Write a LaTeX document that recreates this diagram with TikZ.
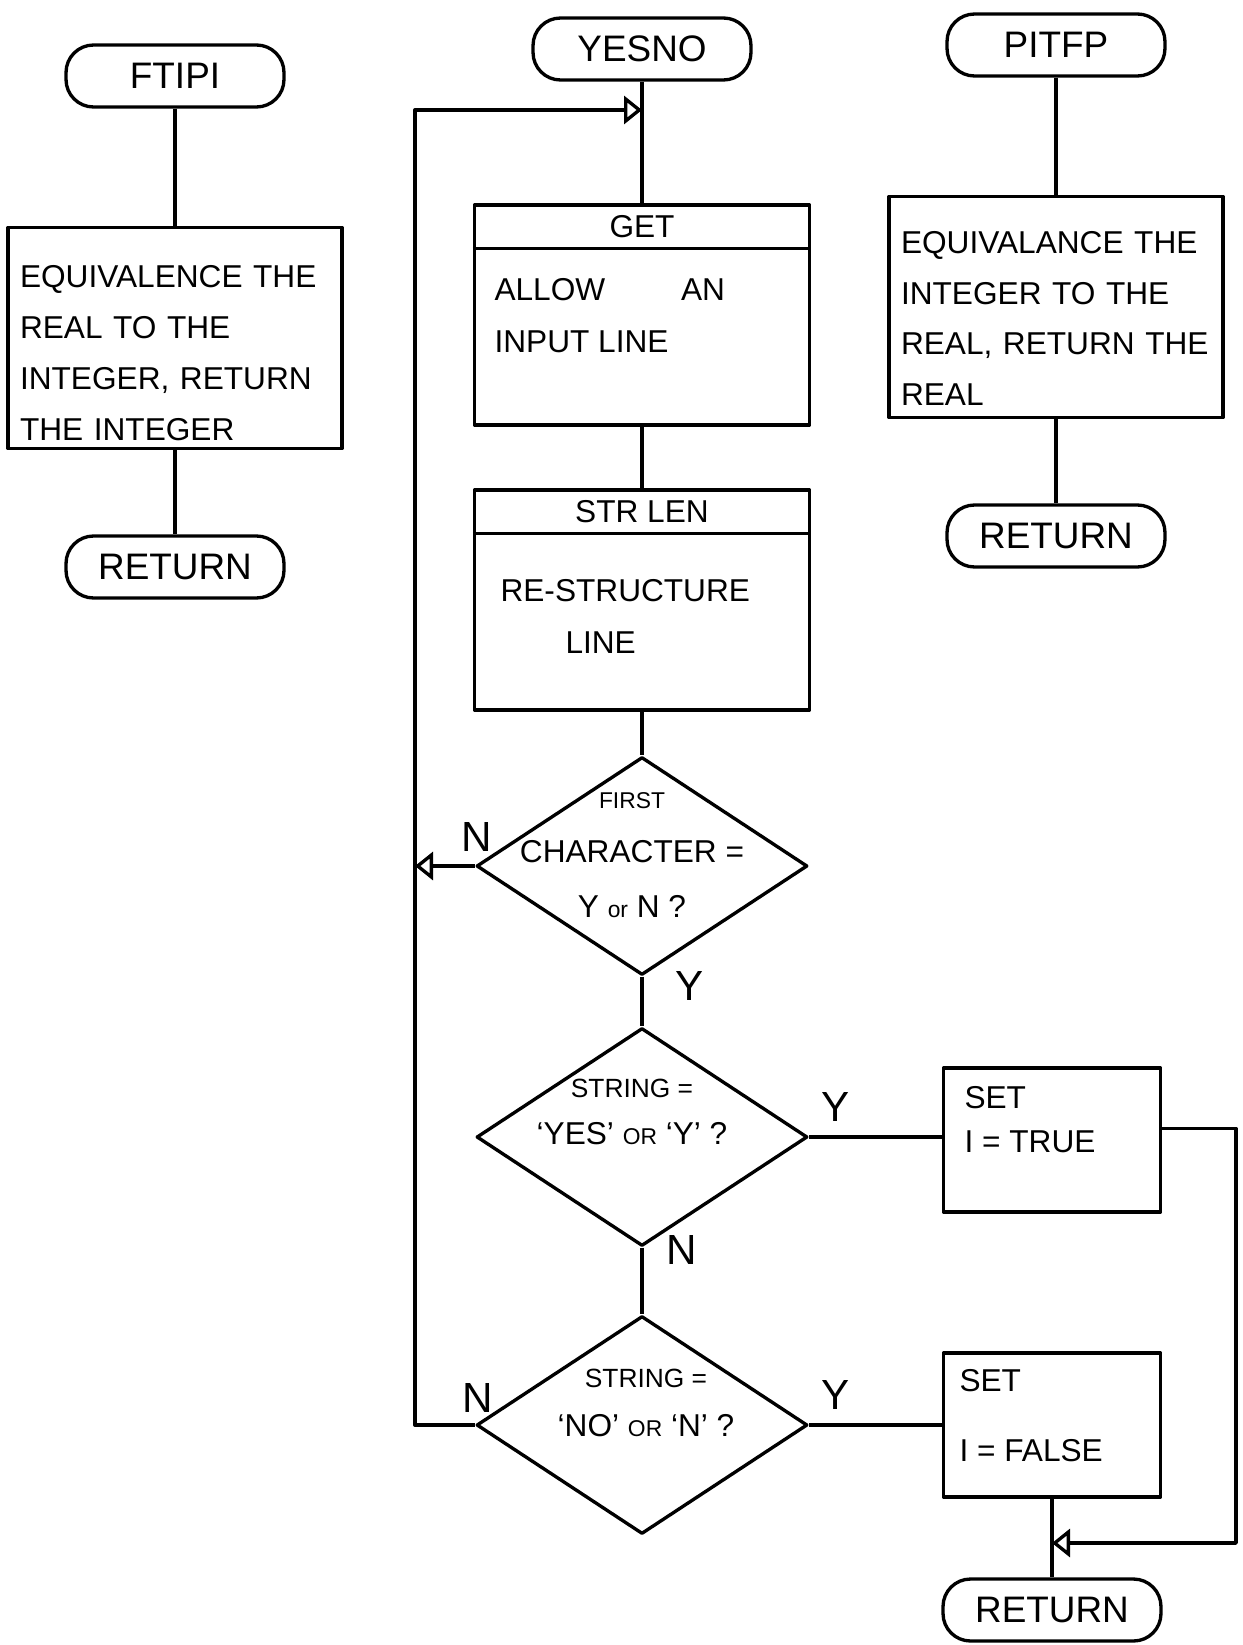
\documentclass[tikz,border=0pt]{standalone}
\usepackage{fontspec}
\setmainfont{Liberation Sans}
\usetikzlibrary{positioning, arrows.meta, calc, shapes.geometric}

\begin{document}
\begin{tikzpicture}[
  x=0.02cm, y=-0.02cm,
  line width=1.9pt, line join=round,
  termbox/.style={
    rectangle, draw, rounded corners=0.55cm,
    minimum width=4.36cm, minimum height=1.24cm,
    font=\fontsize{21}{25}\selectfont, inner sep=0pt
  },
  procbox/.style={
    rectangle, draw, minimum width=6.70cm, minimum height=4.40cm,
    inner sep=0pt
  },
  notebox/.style={
    rectangle, draw, align=left, inner xsep=0.24cm,
    text width=6.2cm, minimum height=4.42cm,
    font=\fontsize{18}{29}\selectfont
  },
  setbox/.style={
    rectangle, draw, minimum width=4.34cm, minimum height=2.88cm,
    inner sep=0pt
  },
  decision/.style={
    diamond, draw, minimum width=6.62cm, minimum height=4.36cm,
    inner sep=0pt
  },
  boxtext/.style={font=\fontsize{18}{30}\selectfont, align=left, inner sep=0pt},
  asktext/.style={align=center, inner sep=0pt},
  branch/.style={font=\fontsize{24}{28}\selectfont, inner sep=0pt},
  flow/.style={-{Triangle[open, length=0.36cm, width=0.56cm]}},
]
\newcommand{\smallcaps}{\fontsize{13}{16}\selectfont}

\path[use as bounding box, fill=white] (0,0) rectangle (1242,1645);

%% -- FTIPI --------------------------------------------------------------
\node[termbox] (ftipi) at (175,76) {FTIPI};
\node[notebox] (ftbox) at (175,338) {\rule{0pt}{1.05cm}EQUIVALENCE THE\\REAL TO THE\\INTEGER, RETURN\\THE INTEGER};
\node[termbox] (ftret) at (175,567) {RETURN};

\draw (ftipi.south) -- (ftbox.north);
\draw (ftbox.south) -- (ftret.north);

%% -- PITFP --------------------------------------------------------------
\node[termbox] (pitfp) at (1056,45) {PITFP};
\node[notebox] (pfbox) at (1056,307) {\rule{0pt}{0.9cm}EQUIVALANCE THE\\INTEGER TO THE\\REAL, RETURN THE\\REAL};
\node[termbox] (pfret) at (1056,536) {RETURN};

\draw (pitfp.south) -- (pfbox.north);
\draw (pfbox.south) -- (pfret.north);

%% -- YESNO --------------------------------------------------------------
\node[termbox] (yesno) at (642,49) {YESNO};

\node[procbox] (get) at (642,315) {};
\draw ($(get.north west)+(0,45)$) -- ($(get.north east)+(0,45)$);
\node[boxtext] (gettitle) at ($(get.north)+(0,23)$) {GET};
\node[boxtext, anchor=north west] (getbody) at ($(get.north west)+(20,73)$)
  {ALLOW\hspace{2.4em}AN\\INPUT LINE};

\node[procbox] (strlen) at (642,600) {};
\draw ($(strlen.north west)+(0,45)$) -- ($(strlen.north east)+(0,45)$);
\node[boxtext] (strtitle) at ($(strlen.north)+(0,23)$) {STR LEN};
\node[boxtext, anchor=north west] (strbody) at ($(strlen.north west)+(26,89)$)
  {RE-STRUCTURE\\\hspace*{1.3cm}LINE};

\node[decision] (d1) at (642,866) {};
\node[asktext, font=\fontsize{18}{31}\selectfont] (d1text) at (632,855)
  {{\smallcaps FIRST}\\CHARACTER =\\Y {\smallcaps or} N ?};

\node[decision] (d2) at (642,1137) {};
\node[asktext, font=\fontsize{18}{27}\selectfont] (d2text) at (632,1112)
  {{\fontsize{15}{18}\selectfont STRING =}\\`YES' {\smallcaps OR} `Y' ?};

\node[decision] (d3) at (642,1425) {};
\node[asktext, font=\fontsize{18}{28}\selectfont] (d3text) at (646,1403)
  {{\fontsize{15}{18}\selectfont STRING =}\\`NO' {\smallcaps OR} `N' ?};

\node[setbox] (settrue) at (1052,1140) {};
\node[boxtext, anchor=north west, font=\fontsize{18}{25}\selectfont] (truetext)
  at ($(settrue.north west)+(21,18)$) {SET\\I = TRUE};

\node[setbox] (setfalse) at (1052,1425) {};
\node[boxtext, anchor=north west, font=\fontsize{18}{40}\selectfont] (falsetext)
  at ($(setfalse.north west)+(16,16)$) {SET\\I = FALSE};

\node[termbox] (yret) at (1052,1610) {RETURN};

%% branch letters
\node[branch] (n1) at (477,837) {N};
\node[branch] (y1) at (690,986) {Y};
\node[branch] (y2) at (836,1107) {Y};
\node[branch] (n2) at (682,1250) {N};
\node[branch] (n3) at (478,1398) {N};
\node[branch] (y3) at (836,1395) {Y};

%% -- Connectors ---------------------------------------------------------
\coordinate (looptop) at (415,110);
\coordinate (truejoin) at (1236,1543);

\draw (yesno.south) -- (get.north);
\draw (get.south) -- (strlen.north);
\draw (strlen.south) -- (d1.north);
\draw (d1.south) -- (d2.north);
\draw (d2.south) -- (d3.north);

\draw[flow] (d1.west) -- (d1.west -| looptop);
\draw[flow] (d3.west) -| (looptop) -- (yesno.south |- looptop);

\draw (d2.east) -- (d2.east -| settrue.west);
\draw (d3.east) -- (d3.east -| setfalse.west);

\draw[flow] ($(settrue.north east)+(0,62)$) -| (truejoin) -- (truejoin -| setfalse.south);
\draw (setfalse.south) -- (yret.north);

\end{tikzpicture}
\end{document}
